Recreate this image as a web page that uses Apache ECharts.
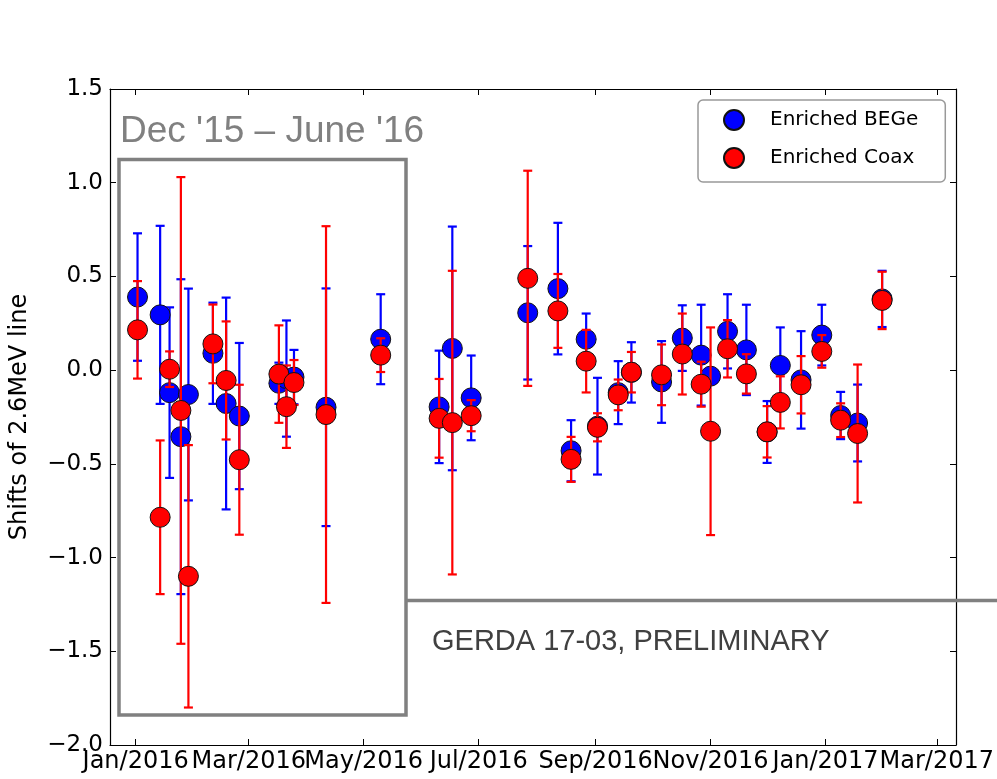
<!DOCTYPE html>
<html>
	<head>
		<meta charset="utf-8" />
		<script type="text/javascript" src="https://cdn.jsdelivr.net/npm/echarts@6/dist/echarts.min.js"></script>
		<title></title>
		<style>
			html, body { margin: 0; padding: 0; background: #fff; }
		</style>
	</head>
	<body>
		<div id="chartmain" style="width:997px; height: 779px;"></div>
		<script type="text/javascript">
// measurement dates (same runs for both detector types)
var dates = [
  '2016-01-02', '2016-01-14', '2016-01-19', '2016-01-25', '2016-01-29', '2016-02-11',
  '2016-02-18', '2016-02-25', '2016-03-17', '2016-03-21', '2016-03-25', '2016-04-11',
  '2016-05-10', '2016-06-10', '2016-06-17', '2016-06-27', '2016-07-27', '2016-08-12',
  '2016-08-19', '2016-08-27', '2016-09-02', '2016-09-13', '2016-09-20', '2016-10-06',
  '2016-10-17', '2016-10-27', '2016-11-01', '2016-11-10', '2016-11-20', '2016-12-01',
  '2016-12-08', '2016-12-19', '2016-12-30', '2017-01-09', '2017-01-18', '2017-01-31'
];
var begeShift = [
  0.39, 0.295, -0.12, -0.355, -0.13, 0.09,
  -0.178, -0.245, -0.07, -0.045, -0.037, -0.198,
  0.165, -0.196, 0.116, -0.148, 0.306, 0.435,
  -0.43, 0.165, -0.299, -0.12, -0.012, -0.063,
  0.171, 0.08, -0.032, 0.207, 0.108, -0.33,
  0.025, -0.052, 0.187, -0.242, -0.282, 0.38
];
var begeErr = [
  0.34, 0.475, 0.455, 0.84, 0.565, 0.27,
  0.565, 0.39, 0.11, 0.31, 0.145, 0.634,
  0.24, 0.30, 0.65, 0.226, 0.356, 0.351,
  0.163, 0.137, 0.258, 0.168, 0.161, 0.218,
  0.175, 0.269, 0.04, 0.198, 0.241, 0.165,
  0.203, 0.26, 0.162, 0.126, 0.205, 0.15
];
var coaxShift = [
  0.215, -0.785, 0.005, -0.215, -1.10, 0.14,
  -0.055, -0.478, -0.021, -0.195, -0.066, -0.237,
  0.08, -0.257, -0.28, -0.243, 0.49, 0.316,
  -0.476, 0.048, -0.305, -0.132, -0.011, -0.025,
  0.086, -0.075, -0.326, 0.114, -0.02, -0.329,
  -0.172, -0.078, 0.1, -0.267, -0.338, 0.372
];
var coaxErr = [
  0.26, 0.41, 0.095, 1.245, 0.70, 0.21,
  0.315, 0.40, 0.26, 0.22, 0.12, 1.005,
  0.09, 0.21, 0.81, 0.083, 0.574, 0.197,
  0.12, 0.167, 0.075, 0.082, 0.108, 0.162,
  0.216, 0.12, 0.554, 0.153, 0.105, 0.137,
  0.139, 0.153, 0.087, 0.09, 0.368, 0.153
];
var tickDates = ['2016-01-01', '2016-03-01', '2016-05-01', '2016-07-01', '2016-09-01', '2016-11-01', '2017-01-01', '2017-03-01'];
var monthNames = ['Jan', 'Feb', 'Mar', 'Apr', 'May', 'Jun', 'Jul', 'Aug', 'Sep', 'Oct', 'Nov', 'Dec'];

var DAY = 86400000;
var T0 = Date.UTC(2016, 0, 1);
// dates -> days since 1 Jan 2016
function toDay(s) {
  var p = s.split('-');
  return (Date.UTC(+p[0], +p[1] - 1, +p[2]) - T0) / DAY;
}
var xMin = -13.6;
var xMax = toDay('2017-03-01') + 10.2;
var tickDays = tickDates.map(toDay);

function pts(shift) {
  return dates.map(function (d, i) { return [toDay(d), shift[i]]; });
}
function bars(shift, err) {
  return dates.map(function (d, i) { return [toDay(d), shift[i] - err[i], shift[i] + err[i]]; });
}
function errRenderer(color) {
  return function (params, api) {
    var x = api.value(0);
    var top = api.coord([x, api.value(2)]);
    var bot = api.coord([x, api.value(1)]);
    var cap = 4.5;
    var st = { stroke: color, lineWidth: 2.2 };
    return {
      type: 'group',
      children: [
        { type: 'line', shape: { x1: top[0], y1: top[1], x2: bot[0], y2: bot[1] }, style: st },
        { type: 'line', shape: { x1: top[0] - cap, y1: top[1], x2: top[0] + cap, y2: top[1] }, style: st },
        { type: 'line', shape: { x1: bot[0] - cap, y1: bot[1], x2: bot[0] + cap, y2: bot[1] }, style: st }
      ]
    };
  };
}
function fmtY(v) {
  return v.toFixed(1).replace('-', '\u2212');
}
function fmtX(v) {
  var d = new Date(T0 + Math.round(v) * DAY);
  return monthNames[d.getUTCMonth()] + '/' + d.getUTCFullYear();
}

var axisLine = { show: true, onZero: false, lineStyle: { color: '#000', width: 1.2 } };
var tickStyle = { color: '#000', width: 1 };

option = {
  animation: false,
  backgroundColor: '#fff',
  grid: { left: 110, right: 38, top: 89, bottom: 34 },
  legend: {
    left: 698,
    top: 100,
    orient: 'vertical',
    icon: 'circle',
    itemWidth: 20,
    itemHeight: 20,
    itemGap: 16,
    padding: [9, 27, 13, 25],
    borderColor: '#999',
    borderWidth: 1.5,
    borderRadius: 5,
    textStyle: { fontFamily: 'DejaVu Sans', fontSize: 20, color: '#000', padding: [0, 0, 0, 21] },
    data: ['Enriched BEGe', 'Enriched Coax']
  },
  xAxis: [
    {
      type: 'value', min: xMin, max: xMax, position: 'bottom',
      axisLine: axisLine, splitLine: { show: false },
      axisTick: { inside: true, length: 6, lineStyle: tickStyle, customValues: tickDays },
      axisLabel: { customValues: tickDays, formatter: fmtX, margin: 5, color: '#000', fontFamily: 'DejaVu Sans', fontSize: 24, hideOverlap: false }
    },
    {
      type: 'value', min: xMin, max: xMax, position: 'top',
      axisLine: axisLine, splitLine: { show: false },
      axisTick: { inside: true, length: 6, lineStyle: tickStyle, customValues: tickDays },
      axisLabel: { show: false }
    }
  ],
  yAxis: [
    {
      type: 'value', min: -2, max: 1.5, interval: 0.5, position: 'left',
      axisLine: axisLine, splitLine: { show: false },
      axisTick: { inside: true, length: 6, lineStyle: tickStyle },
      axisLabel: { formatter: fmtY, margin: 7, color: '#000', fontFamily: 'DejaVu Sans', fontSize: 23 },
      name: 'Shifts of 2.6MeV line',
      nameLocation: 'middle',
      nameGap: 78,
      nameTextStyle: { fontFamily: 'DejaVu Sans', fontSize: 24, color: '#000' }
    },
    {
      type: 'value', min: -2, max: 1.5, interval: 0.5, position: 'right',
      axisLine: axisLine, splitLine: { show: false },
      axisTick: { inside: true, length: 6, lineStyle: tickStyle },
      axisLabel: { show: false }
    }
  ],
  graphic: [
    {
      type: 'text', left: 120, top: 113, z: 1,
      style: { text: "Dec '15 \u2013 June '16", fill: '#808080', font: '37px "Liberation Sans"' }
    },
    {
      type: 'rect', z: 1,
      shape: { x: 119, y: 159.5, width: 287, height: 555.5 },
      style: { fill: 'none', stroke: '#808080', lineWidth: 3.5 }
    },
    {
      type: 'line', z: 1,
      shape: { x1: 406, y1: 600.5, x2: 997, y2: 600.5 },
      style: { stroke: '#808080', lineWidth: 3.5 }
    },
    {
      type: 'text', left: 432, top: 627, z: 1,
      style: { text: 'GERDA 17-03, PRELIMINARY', fill: '#404040', font: '29px "Liberation Sans"' }
    }
  ],
  series: [
    {
      name: 'BEGe err', type: 'custom', z: 2,
      renderItem: errRenderer('#0000ff'),
      encode: { x: 0, y: [1, 2] },
      data: bars(begeShift, begeErr)
    },
    {
      name: 'Enriched BEGe', type: 'scatter', z: 3,
      symbol: 'circle', symbolSize: 20,
      itemStyle: { color: '#0000ff', borderColor: '#111', borderWidth: 1, opacity: 1 },
      data: pts(begeShift)
    },
    {
      name: 'Coax err', type: 'custom', z: 4,
      renderItem: errRenderer('#ff0000'),
      encode: { x: 0, y: [1, 2] },
      data: bars(coaxShift, coaxErr)
    },
    {
      name: 'Enriched Coax', type: 'scatter', z: 5,
      symbol: 'circle', symbolSize: 20,
      itemStyle: { color: '#ff0000', borderColor: '#111', borderWidth: 1, opacity: 1 },
      data: pts(coaxShift)
    }
  ]
};
			var myChart = echarts.init(document.getElementById('chartmain'));
			myChart.setOption(option);

			window.addEventListener('resize', function () {
				myChart.resize()
			})
		</script>
	</body>
</html>
